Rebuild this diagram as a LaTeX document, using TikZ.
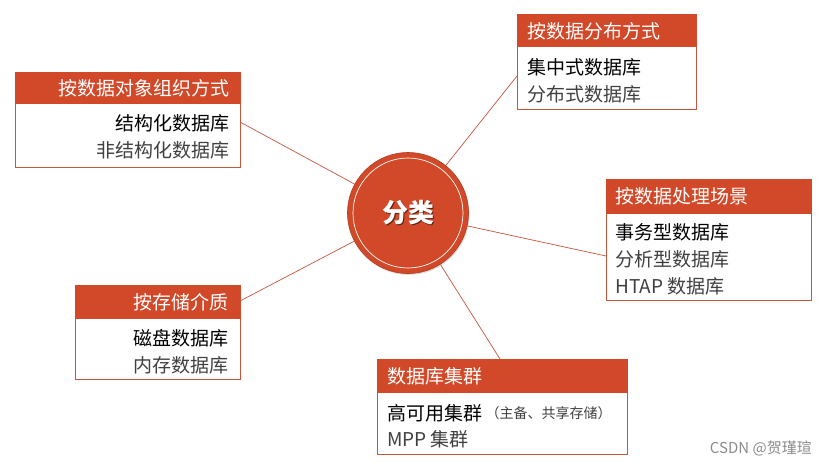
\documentclass[tikz,border=0pt]{standalone}
\usepackage{fontspec}
\setmainfont{Noto Sans CJK SC}
\usetikzlibrary{shadows}
\definecolor{hdr}{RGB}{209,73,40}
\definecolor{edge}{RGB}{196,86,60}
\definecolor{body2}{RGB}{64,64,64}
\tikzset{
  hdrbox/.style={rectangle, fill=hdr, draw=hdr, inner sep=0pt, anchor=north west},
  bodybox/.style={rectangle, draw=edge, line width=0.8pt, fill=white, inner sep=0pt, anchor=north west},
  htext/.style={text=white, inner sep=0pt, font=\fontsize{19}{22}\selectfont},
  t1/.style={text=black, inner sep=0pt, font=\fontsize{19}{22}\selectfont},
  t2/.style={text=body2, inner sep=0pt, font=\fontsize{19}{22}\selectfont},
  link/.style={draw=edge, line width=0.7pt},
}
\begin{document}
\begin{tikzpicture}[x=1pt,y=-1pt]
\path[use as bounding box, fill=white] (0,0) rectangle (827,467);

% central circle
\node[circle, fill=hdr, draw=hdr!85!black, line width=0.6pt, minimum size=121pt, inner sep=0pt,
      drop shadow={shadow xshift=1pt, shadow yshift=-1.5pt, opacity=0.25}] (c) at (408,213) {};
\draw[white, line width=0.7pt] (c.center) circle (55pt);
\node[text=white, font=\fontsize{26}{30}\selectfont\bfseries] (ct) at (c.center)
  {\makebox[0pt][l]{\hspace{1.5pt}\raisebox{-1.5pt}{\color{hdr!45!black}分类}}分类};

% box 1: by data object organisation
\node[bodybox, minimum width=225pt, minimum height=64pt] (b1) at (15,103) {};
\node[hdrbox, minimum width=225pt, minimum height=31pt] (h1) at (15,72) {};
\node[htext, anchor=east] (h1t) at (230,88) {按数据对象组织方式};
\node[t1, anchor=east] (b1a) at (230,123) {结构化数据库};
\node[t2, anchor=east] (b1b) at (230,150) {非结构化数据库};
\coordinate (p1) at (240,122);

% box 2: by data distribution
\node[bodybox, minimum width=179pt, minimum height=63pt] (b2) at (517,46) {};
\node[hdrbox, minimum width=179pt, minimum height=32pt] (h2) at (517,14) {};
\node[htext, anchor=west] (h2t) at (527,31) {按数据分布方式};
\node[t1, anchor=west] (b2a) at (527,67) {集中式数据库};
\node[t2, anchor=west] (b2b) at (527,94) {分布式数据库};
\coordinate (p2) at (517,76);

% box 3: by data processing scenario
\node[bodybox, minimum width=205pt, minimum height=87pt] (b3) at (606,213) {};
\node[hdrbox, minimum width=205pt, minimum height=34pt] (h3) at (606,179) {};
\node[htext, anchor=west] (h3t) at (615,196) {按数据处理场景};
\node[t1, anchor=west] (b3a) at (615,232) {事务型数据库};
\node[t2, anchor=west] (b3b) at (615,259) {分析型数据库};
\node[t2, anchor=west] (b3c) at (615,286) {HTAP 数据库};
\coordinate (p3) at (606,256);

% box 4: by storage medium
\node[bodybox, minimum width=165pt, minimum height=61pt] (b4) at (75,318) {};
\node[hdrbox, minimum width=165pt, minimum height=33pt] (h4) at (75,285) {};
\node[htext, anchor=east] (h4t) at (229,302) {按存储介质};
\node[t1, anchor=east] (b4a) at (229,338) {磁盘数据库};
\node[t2, anchor=east] (b4b) at (229,365) {内存数据库};
\coordinate (p4) at (240,301);

% box 5: database cluster
\node[bodybox, minimum width=250pt, minimum height=62pt] (b5) at (377,392) {};
\node[hdrbox, minimum width=250pt, minimum height=33pt] (h5) at (377,359) {};
\node[htext, anchor=west] (h5t) at (387,376) {数据库集群};
\node[t1, anchor=west] (b5a) at (387,413) {高可用集群};
\node[t2, anchor=west, font=\fontsize{14}{16}\selectfont] (b5s) at ([xshift=3pt]b5a.east) {（主备、共享存储）};
\node[t2, anchor=west] (b5b) at (387,439) {MPP 集群};
\coordinate (p5) at (500,359);

% connectors
\draw[link] (c) -- (p1);
\draw[link] (c) -- (p2);
\draw[link] (c) -- (p3);
\draw[link] (c) -- (p4);
\draw[link] (c) -- (p5);

% watermark
\node[text=black!45, font=\fontsize{15}{18}\selectfont, anchor=east, inner sep=0pt] (wm) at (812,448) {CSDN @贺瑾瑄};
\end{tikzpicture}
\end{document}
